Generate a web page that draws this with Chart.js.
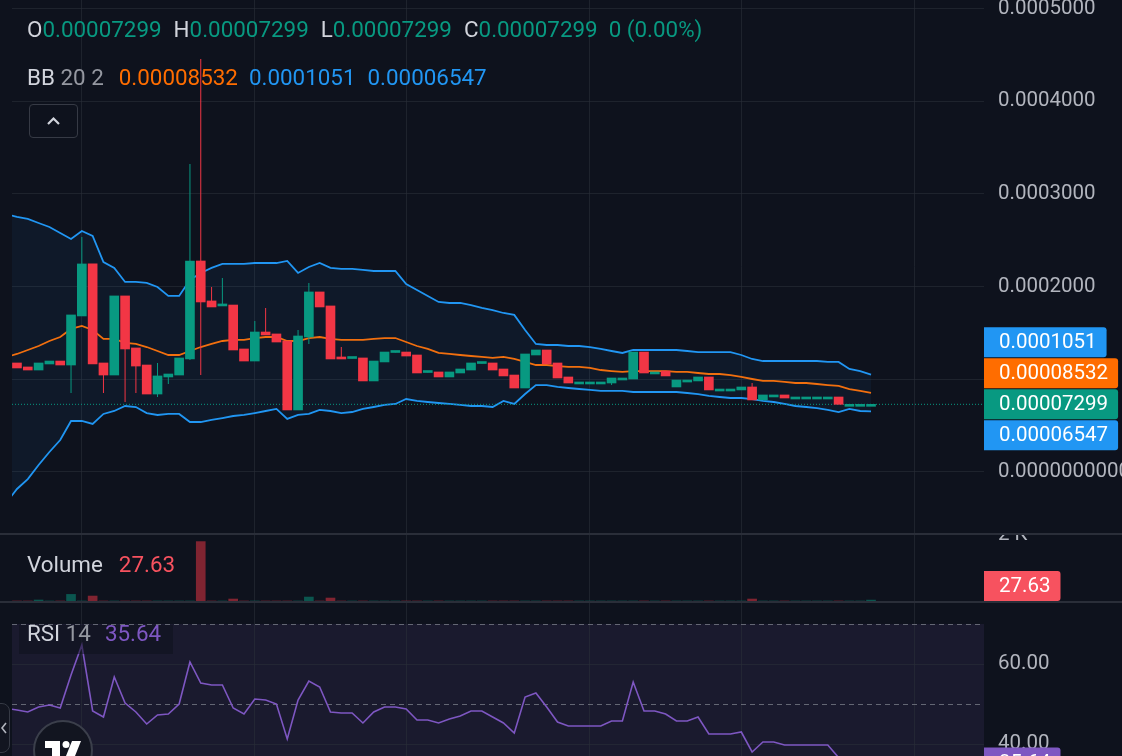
<!DOCTYPE html>
<html>
<head>
<meta charset="utf-8">
<title>BB 20 2 / Volume / RSI 14</title>
<script src="https://cdn.jsdelivr.net/npm/chart.js@4.4.1/dist/chart.umd.min.js"></script>
<style>
  body { margin: 0; background: #0e121d; }
  #wrap { position: relative; width: 1122px; height: 756px; overflow: hidden; background: #0e121d; font-family: Roboto, sans-serif; }
  canvas { position: absolute; left: 0; }
  .sep { position: absolute; left: 0; width: 1122px; height: 2px; background: #2a2e39; }
  .lg { position: absolute; left: 27px; font-size: 22.4px; line-height: 26px; white-space: pre; color: #d1d4dc; }
  .dim { color: #9598a1; }
  .up { color: #089981; }
  .org { color: #ff6d00; }
  .blu { color: #2196f3; }
  .red { color: #f7525f; }
  .pur { color: #7e57c2; }
  #collapse { position: absolute; left: 29px; top: 104px; width: 47px; height: 32px; border: 1px solid #363a45; border-radius: 4px; }
  #rsiBox { position: absolute; left: 19px; top: 625px; width: 154px; height: 29px; background: rgba(14, 18, 29, 0.55); }
  #logo { position: absolute; left: 33px; top: 720px; width: 56px; height: 56px; border: 2px solid #3b3f4b; border-radius: 50%; background: #121520; overflow: hidden; }
  #sideTab { position: absolute; left: -12px; top: 703px; width: 20px; height: 48px; border: 1px solid #363a45; border-radius: 8px; background: #121520; }
</style>
</head>
<body>
<div id="wrap">
  <canvas id="priceChart" width="1122" height="533" style="top:0px"></canvas>
  <div class="sep" style="top:533px"></div>
  <canvas id="volumeChart" width="1122" height="66" style="top:535px"></canvas>
  <div class="sep" style="top:601px"></div>
  <canvas id="rsiChart" width="1122" height="153" style="top:603px"></canvas>

  <div class="lg" id="ohlcLegend" style="top:16px"></div>
  <div class="lg" id="bbLegend" style="top:64px"></div>
  <div id="collapse">
    <svg width="47" height="32"><polyline points="18,19 23.5,13.5 29,19" fill="none" stroke="#d1d4dc" stroke-width="2.2"/></svg>
  </div>
  <div class="lg" id="volLegend" style="top:551px"></div>
  <div id="rsiBox"></div>
  <div class="lg" id="rsiLegend" style="top:620px"></div>
  <div id="logo">
    <svg width="56" height="56">
      <rect x="10" y="19" width="15" height="7" fill="#fff"/>
      <rect x="17" y="19" width="8" height="20" fill="#fff"/>
      <circle cx="31" cy="22.5" r="3.5" fill="#fff"/>
      <polygon points="37,19 46,19 38,39 29,39" fill="#fff"/>
    </svg>
  </div>
  <div id="sideTab">
    <svg width="20" height="48"><polyline points="17,19 13,24 17,29" fill="none" stroke="#b2b5be" stroke-width="1.6"/></svg>
  </div>
</div>

<script>
const UP = "#089981";
const DOWN = "#f23645";
const BLUE = "#2196f3";
const ORANGE = "#ff6d00";
const PURPLE = "#7e57c2";
const GRID = "rgba(42, 46, 57, 0.6)";
const AXIS_TEXT = "#b2b5be";
const FONT = "Roboto";
Chart.defaults.font.family = FONT;

// candles, one per bar (index 0..79)
const open = [
  117.6e-6, 113.3e-6, 110.0e-6, 116.5e-6, 119.7e-6, 115.4e-6, 168.3e-6, 224.4e-6, 117.6e-6, 104.6e-6,
  189.9e-6, 133.8e-6, 115.4e-6, 84.1e-6, 102.5e-6, 104.6e-6, 121.9e-6, 227.6e-6, 184.5e-6, 179.1e-6,
  180.1e-6, 132.7e-6, 119.7e-6, 151.0e-6, 148.9e-6, 141.3e-6, 66.9e-6, 145.6e-6, 194.2e-6, 179.1e-6,
  123.0e-6, 122.4e-6, 123.0e-6, 98.2e-6, 118.7e-6, 128.9e-6, 129.4e-6, 126.2e-6, 107.3e-6, 107.9e-6,
  102.5e-6, 106.8e-6, 110.0e-6, 117.0e-6, 117.6e-6, 111.1e-6, 104.6e-6, 90.6e-6, 126.2e-6, 131.6e-6,
  117.6e-6, 102.5e-6, 97.1e-6, 97.1e-6, 97.1e-6, 96.0e-6, 101.4e-6, 100.3e-6, 129.4e-6, 107.9e-6,
  108.9e-6, 91.7e-6, 99.2e-6, 98.2e-6, 102.5e-6, 89.5e-6, 89.5e-6, 88.5e-6, 91.7e-6, 77.7e-6,
  83.1e-6, 83.1e-6, 80.9e-6, 80.9e-6, 80.9e-6, 80.9e-6, 80.9e-6, 72.99e-6, 72.99e-6, 72.99e-6
];
const high = [
  117.6e-6, 113.3e-6, 117.6e-6, 119.7e-6, 119.7e-6, 169.4e-6, 253.5e-6, 224.4e-6, 117.6e-6, 189.9e-6,
  189.9e-6, 133.8e-6, 115.4e-6, 117.6e-6, 105.7e-6, 123.0e-6, 332.2e-6, 445.5e-6, 199.6e-6, 209.3e-6,
  180.1e-6, 132.7e-6, 162.9e-6, 176.9e-6, 148.9e-6, 141.3e-6, 153.2e-6, 203.9e-6, 194.2e-6, 179.1e-6,
  134.8e-6, 123.0e-6, 123.0e-6, 119.7e-6, 129.4e-6, 129.4e-6, 129.4e-6, 126.2e-6, 107.9e-6, 107.9e-6,
  107.9e-6, 111.1e-6, 117.6e-6, 117.6e-6, 117.6e-6, 111.1e-6, 104.6e-6, 127.3e-6, 131.6e-6, 131.6e-6,
  117.6e-6, 102.5e-6, 97.1e-6, 97.1e-6, 97.1e-6, 101.4e-6, 101.4e-6, 129.4e-6, 129.4e-6, 107.9e-6,
  108.9e-6, 99.2e-6, 99.2e-6, 102.5e-6, 102.5e-6, 89.5e-6, 89.5e-6, 91.7e-6, 96.0e-6, 83.1e-6,
  83.1e-6, 83.1e-6, 80.9e-6, 80.9e-6, 80.9e-6, 80.9e-6, 80.9e-6, 72.99e-6, 72.99e-6, 72.99e-6
];
const low = [
  112.2e-6, 110.0e-6, 110.0e-6, 116.5e-6, 115.4e-6, 85.2e-6, 168.3e-6, 116.5e-6, 85.2e-6, 104.6e-6,
  75.5e-6, 85.2e-6, 84.1e-6, 80.9e-6, 94.9e-6, 104.6e-6, 120.8e-6, 104.6e-6, 178.0e-6, 179.1e-6,
  131.6e-6, 119.7e-6, 119.7e-6, 147.8e-6, 140.2e-6, 66.9e-6, 66.9e-6, 138.1e-6, 178.0e-6, 121.9e-6,
  121.9e-6, 122.4e-6, 98.2e-6, 98.2e-6, 118.7e-6, 128.9e-6, 125.1e-6, 106.8e-6, 107.3e-6, 102.5e-6,
  102.5e-6, 106.8e-6, 110.0e-6, 117.0e-6, 110.0e-6, 103.6e-6, 90.6e-6, 90.6e-6, 126.2e-6, 116.5e-6,
  101.4e-6, 96.0e-6, 97.1e-6, 97.1e-6, 97.1e-6, 93.8e-6, 101.4e-6, 100.3e-6, 106.8e-6, 107.9e-6,
  103.6e-6, 91.7e-6, 99.2e-6, 98.2e-6, 88.5e-6, 89.5e-6, 89.5e-6, 88.5e-6, 77.7e-6, 77.7e-6,
  83.1e-6, 79.8e-6, 80.9e-6, 80.9e-6, 80.9e-6, 80.9e-6, 72.99e-6, 72.99e-6, 72.99e-6, 72.99e-6
];
const close = [
  112.2e-6, 110.0e-6, 117.6e-6, 119.7e-6, 115.4e-6, 169.4e-6, 224.4e-6, 116.5e-6, 104.6e-6, 189.9e-6,
  132.7e-6, 114.3e-6, 84.1e-6, 103.6e-6, 105.7e-6, 123.0e-6, 227.6e-6, 183.4e-6, 178.0e-6, 180.1e-6,
  131.6e-6, 119.7e-6, 151.0e-6, 147.8e-6, 140.2e-6, 66.9e-6, 146.7e-6, 194.2e-6, 178.0e-6, 121.9e-6,
  121.9e-6, 123.0e-6, 98.2e-6, 119.7e-6, 129.4e-6, 129.4e-6, 125.1e-6, 106.8e-6, 107.9e-6, 102.5e-6,
  107.9e-6, 111.1e-6, 117.6e-6, 117.6e-6, 110.0e-6, 103.6e-6, 90.6e-6, 127.3e-6, 131.6e-6, 116.5e-6,
  101.4e-6, 96.0e-6, 97.1e-6, 97.1e-6, 97.1e-6, 101.4e-6, 101.4e-6, 129.4e-6, 106.8e-6, 107.9e-6,
  103.6e-6, 99.2e-6, 99.2e-6, 102.5e-6, 88.5e-6, 89.5e-6, 89.5e-6, 91.7e-6, 77.7e-6, 83.1e-6,
  83.1e-6, 79.8e-6, 80.9e-6, 80.9e-6, 80.9e-6, 80.9e-6, 72.99e-6, 72.99e-6, 72.99e-6, 72.99e-6
];
const volume = [
  0, 0, 30, 0, 0, 200, 0, 150, 0, 0,
  0, 0, 0, 0, 0, 0, 0, 1800, 0, 0,
  60, 0, 0, 0, 0, 0, 0, 120, 0, 90,
  0, 0, 0, 0, 0, 0, 0, 0, 0, 0,
  0, 0, 0, 0, 0, 0, 0, 0, 0, 0,
  0, 0, 0, 0, 0, 0, 0, 0, 0, 0,
  0, 0, 0, 0, 0, 0, 0, 0, 60, 0,
  0, 0, 0, 0, 0, 0, 0, 0, 0, 27.63
];

// indicator lines start one bar earlier (index -1..79) so they run to the pane edge
const bbUpper = [
  278.3e-6, 275.1e-6, 272.9e-6, 268.6e-6, 264.3e-6, 257.8e-6, 251.3e-6, 260.0e-6, 254.6e-6, 226.5e-6, 220.1e-6,
  205.0e-6, 205.0e-6, 203.9e-6, 199.6e-6, 189.9e-6, 189.9e-6, 207.1e-6, 214.7e-6, 220.1e-6, 224.4e-6,
  224.4e-6, 224.4e-6, 225.4e-6, 225.4e-6, 225.4e-6, 227.6e-6, 214.7e-6, 221.1e-6, 225.4e-6, 220.1e-6,
  219.0e-6, 219.0e-6, 217.9e-6, 216.8e-6, 216.8e-6, 216.8e-6, 202.8e-6, 196.3e-6, 189.9e-6, 183.4e-6,
  182.3e-6, 182.3e-6, 180.1e-6, 176.9e-6, 174.7e-6, 171.5e-6, 169.4e-6, 153.2e-6, 138.1e-6, 137.0e-6,
  137.0e-6, 135.9e-6, 135.9e-6, 134.8e-6, 132.7e-6, 130.5e-6, 128.4e-6, 131.6e-6, 131.6e-6, 131.6e-6,
  131.6e-6, 131.6e-6, 130.5e-6, 129.4e-6, 129.4e-6, 129.4e-6, 129.4e-6, 126.2e-6, 121.9e-6, 119.7e-6,
  119.7e-6, 119.7e-6, 119.7e-6, 119.7e-6, 119.7e-6, 118.7e-6, 118.7e-6, 111.1e-6, 108.9e-6, 105.1e-6
];
const bbBasis = [
  124.1e-6, 127.3e-6, 131.6e-6, 135.9e-6, 141.3e-6, 145.6e-6, 154.3e-6, 157.5e-6, 153.2e-6, 143.5e-6, 143.5e-6,
  139.2e-6, 138.1e-6, 134.8e-6, 130.5e-6, 126.2e-6, 126.2e-6, 130.5e-6, 134.8e-6, 138.1e-6, 141.3e-6,
  142.4e-6, 142.4e-6, 144.5e-6, 145.6e-6, 145.6e-6, 141.3e-6, 141.3e-6, 144.5e-6, 145.6e-6, 143.5e-6,
  142.4e-6, 142.4e-6, 142.4e-6, 143.5e-6, 144.5e-6, 144.5e-6, 140.2e-6, 135.9e-6, 132.7e-6, 128.4e-6,
  127.3e-6, 126.2e-6, 125.1e-6, 124.1e-6, 123.0e-6, 124.1e-6, 121.9e-6, 118.7e-6, 115.4e-6, 115.4e-6,
  114.3e-6, 113.3e-6, 113.3e-6, 112.2e-6, 110.0e-6, 108.9e-6, 107.9e-6, 108.9e-6, 108.9e-6, 108.9e-6,
  108.9e-6, 107.9e-6, 107.9e-6, 106.8e-6, 105.7e-6, 105.7e-6, 104.6e-6, 102.5e-6, 100.3e-6, 98.2e-6,
  98.2e-6, 97.1e-6, 96.0e-6, 96.0e-6, 94.9e-6, 93.8e-6, 92.8e-6, 89.5e-6, 87.4e-6, 85.32e-6
];
const bbLower = [
  -33.4e-6, -18.3e-6, -7.6e-6, 7.6e-6, 21.6e-6, 34.5e-6, 55.0e-6, 55.0e-6, 51.8e-6, 62.6e-6, 65.8e-6,
  71.2e-6, 70.1e-6, 63.6e-6, 61.5e-6, 62.6e-6, 62.6e-6, 53.9e-6, 53.9e-6, 56.1e-6, 58.2e-6,
  60.4e-6, 61.5e-6, 63.6e-6, 65.8e-6, 68.0e-6, 57.2e-6, 61.5e-6, 62.6e-6, 66.9e-6, 65.8e-6,
  63.6e-6, 64.7e-6, 68.0e-6, 70.1e-6, 72.3e-6, 73.4e-6, 78.7e-6, 76.6e-6, 75.5e-6, 74.4e-6,
  73.4e-6, 72.3e-6, 71.2e-6, 71.2e-6, 70.1e-6, 76.6e-6, 73.4e-6, 84.1e-6, 93.8e-6, 93.8e-6,
  91.7e-6, 90.6e-6, 89.5e-6, 88.5e-6, 87.4e-6, 87.4e-6, 87.4e-6, 86.3e-6, 86.3e-6, 86.3e-6,
  86.3e-6, 86.3e-6, 85.2e-6, 84.1e-6, 82.0e-6, 80.9e-6, 79.8e-6, 79.8e-6, 78.7e-6, 76.6e-6,
  75.5e-6, 73.4e-6, 71.2e-6, 70.1e-6, 69.0e-6, 66.9e-6, 64.7e-6, 68.0e-6, 65.8e-6, 65.47e-6
];
const rsi = [
  48.9, 48.5, 48.0, 49.25, 49.75, 49.0, 57.25, 64.75, 48.25, 46.75, 56.75,
  50.25, 48.0, 45.0, 47.25, 47.5, 50.0, 60.5, 55.25, 54.75, 54.75,
  49.0, 47.5, 51.25, 51.0, 50.0, 41.25, 51.0, 55.75, 54.25, 48.0,
  47.75, 47.75, 45.25, 48.0, 49.25, 49.25, 48.75, 46.0, 46.0, 45.25,
  46.25, 47.0, 48.25, 48.25, 46.75, 45.25, 42.75, 51.75, 52.75, 49.25,
  45.5, 44.5, 44.5, 44.5, 44.5, 45.75, 45.75, 55.5, 48.25, 48.25,
  47.5, 45.75, 45.75, 46.75, 42.5, 42.5, 42.5, 43.0, 38.0, 40.5,
  40.5, 39.75, 39.75, 39.75, 39.75, 39.75, 36.6, 35.9, 35.7, 35.64
];

const dayBreaks = [6, 22, 36, 53, 67, 83];
const priceTicks = [0, 0.0001, 0.0002, 0.0003, 0.0004, 0.0005];
const volumeTicks = [2000];
const rsiTicks = [40, 60];
const rsiLevels = { upper: 70, middle: 50, lower: 30 };

const X_MIN = -0.46, X_MAX = 89.45;
const last = open.length - 1;
const candleIdx = open.map((v, i) => i);
const candleColors = candleIdx.map(i => close[i] >= open[i] ? UP : DOWN);
const volumeColors = candleIdx.map(i => close[i] >= open[i] ? "rgba(8,153,129,0.5)" : "rgba(242,54,69,0.5)");
const lineData = arr => arr.map((v, k) => ({ x: k - 1, y: v }));
const fmtPrice = v => v.toPrecision(4);

function xScale() {
  return {
    type: "linear", min: X_MIN, max: X_MAX, offset: false,
    grid: { color: GRID, drawTicks: false, offset: false },
    border: { display: false },
    ticks: { display: false },
    afterBuildTicks: s => { s.ticks = dayBreaks.map(v => ({ value: v })); },
    afterFit: s => { s.height = 0; s.paddingLeft = 0; s.paddingRight = 0; }
  };
}

function yScale(min, max, ticks, fmt, showGrid) {
  return {
    position: "right", min: min, max: max,
    grid: { display: showGrid, color: GRID, drawTicks: false },
    border: { display: false },
    ticks: { color: AXIS_TEXT, font: { size: 20.5 }, padding: 14, callback: fmt },
    afterBuildTicks: s => { s.ticks = ticks.map(v => ({ value: v })); },
    afterFit: s => { s.width = 138; s.paddingTop = 0; s.paddingBottom = 0; }
  };
}

function drawTag(ctx, area, y, text, color) {
  ctx.font = "20.5px " + FONT;
  const w = ctx.measureText(text).width + 25;
  ctx.fillStyle = color;
  ctx.beginPath();
  ctx.roundRect(area.right, y - 15, w, 30, [0, 3, 3, 0]);
  ctx.fill();
  ctx.fillStyle = "#ffffff";
  ctx.textAlign = "left";
  ctx.textBaseline = "middle";
  ctx.fillText(text, area.right + 15, y + 1);
}

const baseOptions = {
  responsive: false,
  animation: false,
  events: [],
  layout: { padding: { left: 12, right: 0, top: 0, bottom: 0 } },
  plugins: { legend: { display: false }, tooltip: { enabled: false } }
};

// price pane
const priceTags = {
  id: "priceTags",
  afterDraw(chart) {
    const ctx = chart.ctx, y = chart.scales.y, area = chart.chartArea;
    const tags = [
      { v: bbUpper[last + 1], c: BLUE },
      { v: bbBasis[last + 1], c: ORANGE },
      { v: close[last], c: UP, anchor: true },
      { v: bbLower[last + 1], c: BLUE }
    ].map(t => Object.assign(t, { py: y.getPixelForValue(t.v) }));
    tags.sort((a, b) => a.py - b.py);
    const h = 31;
    const a = tags.findIndex(t => t.anchor);
    for (let i = a - 1; i >= 0; i--) tags[i].py = Math.min(tags[i].py, tags[i + 1].py - h);
    for (let i = a + 1; i < tags.length; i++) tags[i].py = Math.max(tags[i].py, tags[i - 1].py + h);
    ctx.save();
    tags.forEach(t => drawTag(ctx, area, t.py, fmtPrice(t.v), t.c));
    ctx.restore();
  }
};

new Chart(document.getElementById("priceChart"), {
  type: "bar",
  data: {
    datasets: [
      { label: "Body", data: candleIdx.map(i => ({ x: i, y: [open[i], close[i]] })),
        backgroundColor: candleColors, barThickness: 9, minBarLength: 2, grouped: false, order: 0 },
      { label: "Wick", data: candleIdx.map(i => ({ x: i, y: [low[i], high[i]] })),
        backgroundColor: candleColors, barThickness: 1, inflateAmount: 0, grouped: false, order: 1 },
      { type: "line", label: "Last", data: [{ x: X_MIN, y: close[last] }, { x: X_MAX, y: close[last] }],
        borderColor: UP, borderWidth: 1, borderDash: [1, 2], pointRadius: 0, order: 2 },
      { type: "line", label: "Upper", data: lineData(bbUpper), borderColor: BLUE, borderWidth: 1.8,
        pointRadius: 0, fill: "+2", backgroundColor: "rgba(33,150,243,0.06)", clip: 0, order: 3 },
      { type: "line", label: "Basis", data: lineData(bbBasis), borderColor: ORANGE, borderWidth: 1.8,
        pointRadius: 0, clip: 0, order: 3 },
      { type: "line", label: "Lower", data: lineData(bbLower), borderColor: BLUE, borderWidth: 1.8,
        pointRadius: 0, clip: 0, order: 3 }
    ]
  },
  options: Object.assign({}, baseOptions, {
    scales: {
      x: xScale(),
      y: yScale(-65.8e-6, 509.1e-6, priceTicks, v => v === 0 ? "0.0000000000" : v.toFixed(7), true)
    }
  }),
  plugins: [priceTags]
});

// volume pane
const volumeTag = {
  id: "volumeTag",
  afterDraw(chart) {
    const area = chart.chartArea;
    const py = Math.min(chart.scales.y.getPixelForValue(volume[last]), area.bottom - 15);
    chart.ctx.save();
    drawTag(chart.ctx, area, py, volume[last].toFixed(2), "#f7525f");
    chart.ctx.restore();
  }
};

new Chart(document.getElementById("volumeChart"), {
  type: "bar",
  data: {
    datasets: [
      { label: "Volume", data: candleIdx.map(i => ({ x: i, y: volume[i] })),
        backgroundColor: volumeColors, barThickness: 9, grouped: false }
    ]
  },
  options: Object.assign({}, baseOptions, {
    scales: {
      x: xScale(),
      y: yScale(0, 2000, volumeTicks, v => (v / 1000) + " K", false)
    }
  }),
  plugins: [volumeTag]
});

// RSI pane
const rsiBackdrop = {
  id: "rsiBackdrop",
  beforeDraw(chart) {
    const ctx = chart.ctx, a = chart.chartArea, y = chart.scales.y;
    const top = y.getPixelForValue(rsiLevels.upper);
    const bottom = Math.min(y.getPixelForValue(rsiLevels.lower), a.bottom);
    ctx.save();
    ctx.fillStyle = "rgba(126,87,194,0.11)";
    ctx.fillRect(a.left, top, a.right - a.left, bottom - top);
    ctx.restore();
  },
  beforeDatasetsDraw(chart) {
    const ctx = chart.ctx, a = chart.chartArea, y = chart.scales.y;
    ctx.save();
    ctx.strokeStyle = "rgba(120,123,134,0.8)";
    ctx.lineWidth = 1;
    ctx.setLineDash([5, 4]);
    [rsiLevels.upper, rsiLevels.middle].forEach(v => {
      const py = Math.round(y.getPixelForValue(v)) + 0.5;
      ctx.beginPath();
      ctx.moveTo(a.left, py);
      ctx.lineTo(a.right, py);
      ctx.stroke();
    });
    ctx.restore();
  },
  afterDraw(chart) {
    const py = chart.scales.y.getPixelForValue(rsi[rsi.length - 1]);
    chart.ctx.save();
    drawTag(chart.ctx, chart.chartArea, py + 1, rsi[rsi.length - 1].toFixed(2), PURPLE);
    chart.ctx.restore();
  }
};

new Chart(document.getElementById("rsiChart"), {
  type: "line",
  data: {
    datasets: [
      { label: "RSI", data: lineData(rsi), borderColor: PURPLE, borderWidth: 1.6, pointRadius: 0, clip: 0 }
    ]
  },
  options: Object.assign({}, baseOptions, {
    scales: {
      x: xScale(),
      y: yScale(37, 75.25, rsiTicks, v => v.toFixed(2), true)
    }
  }),
  plugins: [rsiBackdrop]
});

// legends
const prevClose = close[last - 1];
const chg = close[last] - prevClose;
const dirClass = close[last] >= open[last] ? "up" : "red";
document.getElementById("ohlcLegend").innerHTML =
  `<span>O</span><span class="${dirClass}">${fmtPrice(open[last])}</span>` +
  `<span style="margin-left:12px">H</span><span class="${dirClass}">${fmtPrice(high[last])}</span>` +
  `<span style="margin-left:12px">L</span><span class="${dirClass}">${fmtPrice(low[last])}</span>` +
  `<span style="margin-left:12px">C</span><span class="${dirClass}">${fmtPrice(close[last])}</span>` +
  `<span class="${dirClass}" style="margin-left:11px">${chg === 0 ? "0" : fmtPrice(chg)} (${(chg / prevClose * 100).toFixed(2)}%)</span>`;
document.getElementById("bbLegend").innerHTML =
  `<span>BB</span> <span class="dim">20 2</span>` +
  `<span class="org" style="margin-left:15px">${fmtPrice(bbBasis[last + 1])}</span>` +
  `<span class="blu" style="margin-left:11px">${fmtPrice(bbUpper[last + 1])}</span>` +
  `<span class="blu" style="margin-left:12px">${fmtPrice(bbLower[last + 1])}</span>`;
document.getElementById("volLegend").innerHTML =
  `<span>Volume</span><span class="red" style="margin-left:16px">${volume[last].toFixed(2)}</span>`;
document.getElementById("rsiLegend").innerHTML =
  `<span>RSI</span> <span class="dim">14</span><span class="pur" style="margin-left:14px">${rsi[rsi.length - 1].toFixed(2)}</span>`;
</script>
</body>
</html>
